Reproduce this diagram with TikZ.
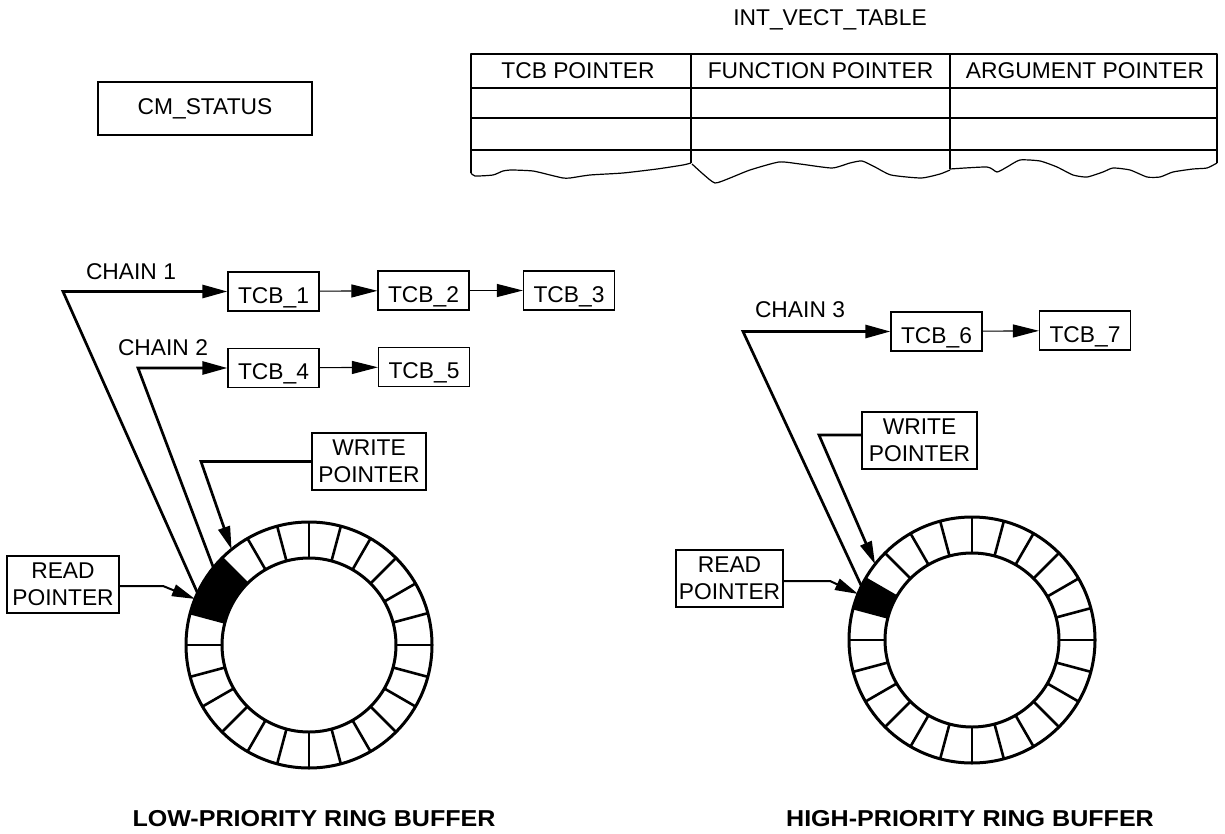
\documentclass[tikz,border=0pt]{standalone}
\usepackage{fontspec}
\setmainfont{Liberation Sans}
\usetikzlibrary{arrows.meta,calc}
\begin{document}
\begin{tikzpicture}[x=1pt,y=-1pt,
  lab/.style={font=\fontsize{22.8}{27}\selectfont, inner sep=0pt},
  captionlab/.style={font=\bfseries\fontsize{23}{27}\selectfont, inner sep=0pt},
  ptrbox/.style={draw, line width=1.2pt, inner sep=0pt, align=center, font=\fontsize{22.8}{27}\selectfont},
  tcbbox/.style={draw, line width=1.2pt, inner sep=0pt, minimum width=91pt, minimum height=39pt, text height=24pt, text depth=1pt, font=\fontsize{22.8}{27}\selectfont},
  chainline/.style={line width=2.7pt, -{Triangle[length=25pt,width=13pt]}},
  linkarrow/.style={line width=1.1pt, -{Triangle[length=26pt,width=13pt]}},
  ptrline/.style={line width=2.7pt, -{Triangle[length=23pt,width=12pt]}},
  ringline/.style={line width=3pt},
  tabline/.style={line width=1.2pt, line join=round}
]
\fill[white] (0,0) rectangle (1225,834);
\useasboundingbox (0,0) rectangle (1225,834);

% CM_STATUS
\node[ptrbox, minimum width=214pt, minimum height=53pt] (cms) at (205,108.5) {CM\_STATUS};

% INT_VECT_TABLE
\node[lab] (ivt) at (830,20) {INT\_VECT\_TABLE};
\draw[tabline] (471,173) -- (471,54) -- (1217,54) -- (1217,163);
\foreach \yy in {88,118,150} \draw[tabline] (471,\yy) -- (1217,\yy);
\draw[tabline] (691,54) -- (691,163);
\draw[tabline] (950,54) -- (950,169);
\draw[tabline] plot[smooth,tension=0.35] coordinates {(471,173) (475,176) (493,175) (503,171) (512,170) (533,171) (550,175) (563,178) (570,178) (590,175) (623,173) (657,169) (683,165) (691,163)};
\draw[tabline] plot[smooth,tension=0.35] coordinates {(692,164) (703,174) (715,183) (730,178) (750,170) (779,162) (800,164) (832,168) (850,163) (862,161) (875,167) (891,175) (921,178) (940,174) (950,170)};
\draw[tabline] plot[smooth,tension=0.35] coordinates {(950,169) (987,167) (997,172) (1007,167) (1020,160) (1040,161) (1057,167) (1073,175) (1087,177) (1103,172) (1113,168) (1130,170) (1147,177) (1160,177) (1173,172) (1193,169) (1207,168) (1217,163)};
\node[lab] (h1) at (578,71) {TCB POINTER};
\node[lab] (h2) at (820.5,71) {FUNCTION POINTER};
\node[lab] (h3) at (1085,71) {ARGUMENT POINTER};

% ring centres
\coordinate (cL) at (309,645);
\coordinate (cR) at (972,640);

% filled slots
\fill ($(cL)+(135:87pt)$) arc[start angle=135,end angle=165,radius=87pt] -- ($(cL)+(165:123pt)$) arc[start angle=165,end angle=135,radius=123pt] -- cycle;
\fill ($(cR)+(150:87pt)$) arc[start angle=150,end angle=165,radius=87pt] -- ($(cR)+(165:123pt)$) arc[start angle=165,end angle=150,radius=123pt] -- cycle;

% rings
\foreach \c in {cL,cR} {
  \draw[ringline] (\c) circle[radius=123pt];
  \draw[ringline] (\c) circle[radius=87pt];
  \foreach \a in {0,15,...,345}
    \draw[line width=2.6pt] ($(\c)+(\a:87pt)$) -- ($(\c)+(\a:123pt)$);
}

% TCB boxes
\node[tcbbox] (t1) at (273.5,291.5) {TCB\_1};
\node[tcbbox] (t2) at (423.5,290.5) {TCB\_2};
\node[tcbbox] (t3) at (569,290.5) {TCB\_3};
\node[tcbbox] (t4) at (273.5,368) {TCB\_4};
\node[tcbbox] (t5) at (424,367) {TCB\_5};
\node[tcbbox] (t6) at (936.5,331.5) {TCB\_6};
\node[tcbbox] (t7) at (1085,330.5) {TCB\_7};

\draw[linkarrow] (t1) -- (t2);
\draw[linkarrow] (t2) -- (t3);
\draw[linkarrow] (t4) -- (t5);
\draw[linkarrow] (t6) -- (t7);

% chain labels
\node[lab] (ch1) at (131,272) {CHAIN 1};
\node[lab] (ch2) at (163,348) {CHAIN 2};
\node[lab] (ch3) at (800,310) {CHAIN 3};

% chain connectors
\coordinate (k1) at (63,291.5);
\coordinate (e1) at ($(cL)+(155:123pt)$);
\draw[chainline] (e1) -- (k1) -- (t1.west);
\coordinate (k2) at (138,368);
\coordinate (e2) at ($(cL)+(141:123pt)$);
\draw[chainline] (e2) -- (k2) -- (t4.west);
\coordinate (k3) at (743,331.5);
\coordinate (e3) at ($(cR)+(154:123pt)$);
\draw[chainline] (e3) -- (k3) -- (t6.west);

% pointer boxes
\node[ptrbox, minimum width=114pt, minimum height=57pt] (wpL) at (369,461.5) {WRITE\\POINTER};
\node[ptrbox, minimum width=112pt, minimum height=57pt] (rpL) at (63,584.5) {READ\\POINTER};
\node[ptrbox, minimum width=115pt, minimum height=57pt] (wpR) at (919.5,440.5) {WRITE\\POINTER};
\node[ptrbox, minimum width=107pt, minimum height=57pt] (rpR) at (729.5,578.5) {READ\\POINTER};

% pointer arrows
\coordinate (kwL) at (201,461.5);
\coordinate (wL) at ($(cL)+(129:123pt)$);
\draw[ptrline] (wpL.west) -- (kwL) -- (wL);
\coordinate (krL) at (163,586);
\coordinate (rL) at ($(cL)+(158:123pt)$);
\draw[ptrline, line width=2pt] ([yshift=-1.5pt]rpL.east) -- (krL) -- (rL);
\coordinate (kwR) at (819,435);
\coordinate (wR) at ($(cR)+(142:123pt)$);
\draw[ptrline] ([yshift=5.5pt]wpR.west) -- (kwR) -- (wR);
\coordinate (krR) at (830,581);
\coordinate (rR) at ($(cR)+(158:123pt)$);
\draw[ptrline, line width=2pt] ([yshift=-2.5pt]rpR.east) -- (krR) -- (rR);

% captions
\node[captionlab] (capL) at (314,819) {\scalebox{1.09}[1]{LOW-PRIORITY RING BUFFER}};
\node[captionlab] (capR) at (970,819) {\scalebox{1.09}[1]{HIGH-PRIORITY RING BUFFER}};
\end{tikzpicture}
\end{document}
